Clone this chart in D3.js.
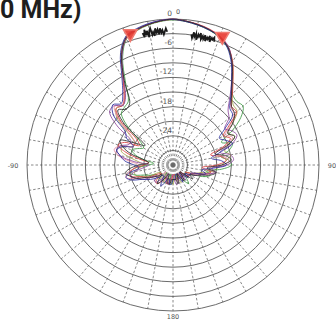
<!DOCTYPE html>
<html>
<head>
<meta charset="utf-8">
<script src="https://cdn.jsdelivr.net/npm/d3@7"></script>
<style>
  html, body { margin: 0; padding: 0; background: #fff; overflow: hidden; }
  svg { display: block; }
</style>
</head>
<body>
<svg id="chart" width="336" height="321"></svg>
<script>
// Measured radiation pattern, gain in dB, sampled every 5 degrees from -180 to 175.
const angles = d3.range(-180, 180, 5);

const traceBlack = [
  -27, -27, -26, -26, -27, -28, -27, -26, -25, -26, -27, -26,
  -25, -24, -22, -21, -20, -21, -23, -25, -24, -21, -19, -18,
  -21, -23, -17, -14, -15, -14.5, -10, -5, -2, -1.2, -0.7, -0.3,
  0, -0.3, -0.7, -1.2, -2, -3.3, -5.7, -8.8, -11.3, -13, -13.5, -15,
  -17, -16, -18, -21, -19, -18, -20, -23, -21, -22, -24, -25,
  -26, -25, -27, -28, -27, -26, -27, -28, -27, -26, -27, -27
];
const traceRed = [
  -28, -27, -27, -26, -26, -27, -27, -26, -25, -25, -26, -27,
  -26, -24, -23, -21, -21, -22, -24, -25, -23, -20, -18, -19,
  -22, -21, -16, -13.5, -14, -12.5, -9.5, -5, -2.2, -1.3, -0.7, -0.3,
  -0.1, -0.3, -0.6, -1.1, -1.8, -3.2, -5.5, -8.5, -11, -13, -13, -16,
  -18, -17, -19, -22, -20, -19, -21, -24, -22, -23, -25, -26,
  -27, -26, -27, -28, -27, -27, -28, -28, -27, -27, -28, -28
];
const traceBlue = [
  -27, -26, -26, -27, -27, -26, -25, -26, -27, -27, -26, -25,
  -24, -23, -21, -20, -21, -23, -22, -20, -19, -18, -19, -21,
  -19, -18, -14, -12.5, -13.5, -12, -9, -4.5, -1.8, -1.0, -0.5, -0.2,
  -0.1, -0.4, -0.8, -1.3, -2, -3.5, -6, -9, -11.5, -13.5, -14, -17,
  -19, -18, -17, -20, -22, -20, -19, -22, -24, -23, -25, -26,
  -26, -27, -26, -27, -28, -27, -26, -27, -28, -28, -27, -27
];
const tracePurple = [
  -28, -28, -27, -26, -26, -27, -28, -27, -26, -25, -25, -26,
  -25, -23, -22, -21, -22, -24, -25, -22, -19, -18, -18.5, -20,
  -20, -16, -13, -12.8, -14, -13, -9.8, -5.2, -2.1, -1.2, -0.6, -0.2,
  0, -0.3, -0.7, -1.2, -1.9, -3.1, -5.8, -9, -11.8, -14, -15, -17,
  -16, -15.5, -17, -20, -18, -17.5, -19, -22, -21, -23, -24, -25,
  -26, -26, -27, -27, -26, -27, -28, -28, -27, -26, -26, -27
];
const traceGreen = [
  -27, -26, -27, -28, -27, -26, -26, -27, -28, -27, -26, -26,
  -26, -25, -24, -22, -21, -22, -25, -26, -24, -22, -21, -22,
  -23, -22, -18, -15, -14.5, -14, -10.5, -5.5, -2.3, -1.4, -0.8, -0.4,
  -0.2, -0.4, -0.8, -1.3, -2.1, -3.4, -5.8, -9, -11, -11.5, -11.2, -13,
  -16, -19, -17, -18, -20, -18.5, -18, -20, -23, -22, -23, -25,
  -26, -27, -27, -26, -25, -26, -27, -28, -28, -27, -27, -28
];
const traceOlive = [
  -26, -27, -28, -27, -26, -26, -27, -28, -27, -26, -26, -27,
  -27, -25, -23, -22, -22, -23, -24, -23, -21, -19, -19, -21,
  -21, -19, -15, -13.5, -14, -12.8, -9.6, -4.8, -2, -1.2, -0.7, -0.3,
  -0.1, -0.3, -0.7, -1.2, -2, -3.3, -5.6, -8.6, -11.2, -12.5, -12.8, -15,
  -17, -16, -18, -19, -18, -19, -20, -21, -22, -24, -25, -26,
  -27, -27, -26, -27, -28, -27, -27, -26, -27, -28, -27, -27
];
const tracePink = [
  -28, -27, -26, -26, -27, -27, -26, -26, -27, -28, -27, -26,
  -25, -24, -22, -20, -20.5, -22, -23, -21, -18.5, -17.5, -18.5, -21,
  -21, -19.5, -15.5, -13, -13.8, -12.6, -9.4, -4.9, -2, -1.1, -0.6, -0.2,
  0, -0.3, -0.7, -1.1, -1.9, -3.2, -5.7, -8.8, -11.4, -13.2, -13.6, -15.5,
  -17.5, -16.5, -18.5, -21, -19.5, -18.5, -19.5, -22.5, -21.5, -22.5, -24.5, -25.5,
  -26.5, -26, -27, -27.5, -27, -26.5, -27, -27.5, -27, -26.5, -27, -27.5
];

// Fine-step noisy segments of the black trace near the main beam peak (0.5 degree steps).
const noiseLeftAngles = d3.range(-13, -2, 0.5);
const noiseLeft = [
  -2.2, -3.1, -1.6, -2.8, -1.9, -3.3, -2.0, -1.5, -2.9, -2.4, -3.2,
  -1.7, -2.6, -2.0, -3.0, -1.8, -2.7, -2.2, -3.1, -2.5, -1.9, -2.6
];
const noiseRightAngles = d3.range(8, 19, 0.5);
const noiseRight = [
  -2.9, -3.6, -2.4, -3.3, -2.6, -3.8, -2.7, -3.1, -2.3, -3.5, -2.8,
  -3.4, -2.5, -3.7, -2.9, -3.2, -2.4, -3.6, -2.7, -3.0, -2.5, -3.3
];

// Beam-edge markers (angle in degrees, gain in dB).
const markerAngles = [-18, 21];
const markerGains = [-1.6, -1.7];

// Grid: rings every 3 dB, labels every 6 dB, spokes every 10 degrees.
const ringLevels = d3.range(-27, 1, 3);
const ringLabels = ["0", "-6", "-12", "-18", "-24"];
const ringLabelLevels = [0, -6, -12, -18, -24];
const spokeAngles = d3.range(0, 360, 10);
const angleLabels = ["0", "90", "180", "-90"];
const angleLabelAngles = [0, 90, 180, 270];

const titleText = "0 MHz)";

const traces = [
  { name: "olive", values: traceOlive, color: "#a3a24a" },
  { name: "green", values: traceGreen, color: "#3f9a44" },
  { name: "pink", values: tracePink, color: "#e58aa2" },
  { name: "red", values: traceRed, color: "#d8403e" },
  { name: "purple", values: tracePurple, color: "#8e4a9e" },
  { name: "blue", values: traceBlue, color: "#2c2e9c" },
  { name: "black", values: traceBlack, color: "#2a2a2a" }
];

const svg = d3.select("#chart");
const cx = 173, cy = 165, R = 146;
const toRad = d => d * Math.PI / 180;

const r = d3.scaleLinear().domain([-30, 0]).range([0, R]).clamp(true);

const g = svg.append("g").attr("transform", `translate(${cx},${cy})`);

// Title
svg.append("text")
  .attr("x", 0).attr("y", 18)
  .attr("font-family", "Roboto, 'DejaVu Sans', sans-serif")
  .attr("font-weight", 700)
  .attr("font-size", 25)
  .attr("fill", "#1e1e1e")
  .text(titleText);

// Spokes
g.append("g").selectAll("line")
  .data(spokeAngles)
  .join("line")
  .attr("x1", 0).attr("y1", 0)
  .attr("x2", d => R * Math.sin(toRad(d)))
  .attr("y2", d => -R * Math.cos(toRad(d)))
  .attr("stroke", "#6a6a6a")
  .attr("stroke-width", 0.8)
  .attr("stroke-dasharray", "2.5,2");

// Rings
g.append("g").selectAll("circle")
  .data(ringLevels)
  .join("circle")
  .attr("r", d => r(d))
  .attr("fill", "none")
  .attr("stroke", "#5a5a5a")
  .attr("stroke-width", 0.9);

// Traces
const line = d3.lineRadial()
  .angle(d => toRad(d[0]))
  .radius(d => r(d[1]))
  .curve(d3.curveCatmullRomClosed.alpha(0.5));

g.append("g").selectAll("path")
  .data(traces)
  .join("path")
  .attr("d", t => line(angles.map((a, i) => [a, t.values[i]])))
  .attr("fill", "none")
  .attr("stroke", t => t.color)
  .attr("stroke-width", 1)
  .attr("stroke-opacity", 0.85);

// Noisy segments
const openLine = d3.lineRadial()
  .angle(d => toRad(d[0]))
  .radius(d => r(d[1]));

[[noiseLeftAngles, noiseLeft], [noiseRightAngles, noiseRight]].forEach(([as, vs]) => {
  g.append("path")
    .attr("d", openLine(as.map((a, i) => [a, vs[i]])))
    .attr("fill", "none")
    .attr("stroke", "#1a1a1a")
    .attr("stroke-width", 1.8);
});

// Markers
const tri = d3.symbol().type(d3.symbolTriangle).size(80);
g.append("g").selectAll("path")
  .data(markerAngles.map((a, i) => [a, markerGains[i]]))
  .join("path")
  .attr("d", tri)
  .attr("transform", d => {
    const rr = r(d[1]);
    const x = rr * Math.sin(toRad(d[0]));
    const y = -rr * Math.cos(toRad(d[0]));
    return `translate(${x},${y}) rotate(180)`;
  })
  .attr("fill", "#e8372f")
  .attr("stroke", "#f07a70")
  .attr("stroke-width", 1.5)
  .attr("fill-opacity", 0.9);

// Ring labels
g.append("g").selectAll("text")
  .data(ringLabelLevels.map((v, i) => [v, ringLabels[i]]))
  .join("text")
  .attr("x", -1)
  .attr("y", d => -r(d[0]) - 3)
  .attr("text-anchor", "end")
  .attr("font-family", "'DejaVu Sans', sans-serif")
  .attr("font-size", 7.5)
  .attr("fill", "#555")
  .text(d => d[1]);

// Angle labels
const labelOffsets = { 0: [5, -R - 5], 90: [R + 13, 3], 180: [0, R + 8], 270: [-R - 14, 3] };
g.append("g").selectAll("text")
  .data(angleLabelAngles.map((a, i) => [a, angleLabels[i]]))
  .join("text")
  .attr("x", d => labelOffsets[d[0]][0])
  .attr("y", d => labelOffsets[d[0]][1])
  .attr("text-anchor", "middle")
  .attr("font-family", "'DejaVu Sans', sans-serif")
  .attr("font-size", 6.5)
  .attr("fill", "#555")
  .text(d => d[1]);
</script>
</body>
</html>
